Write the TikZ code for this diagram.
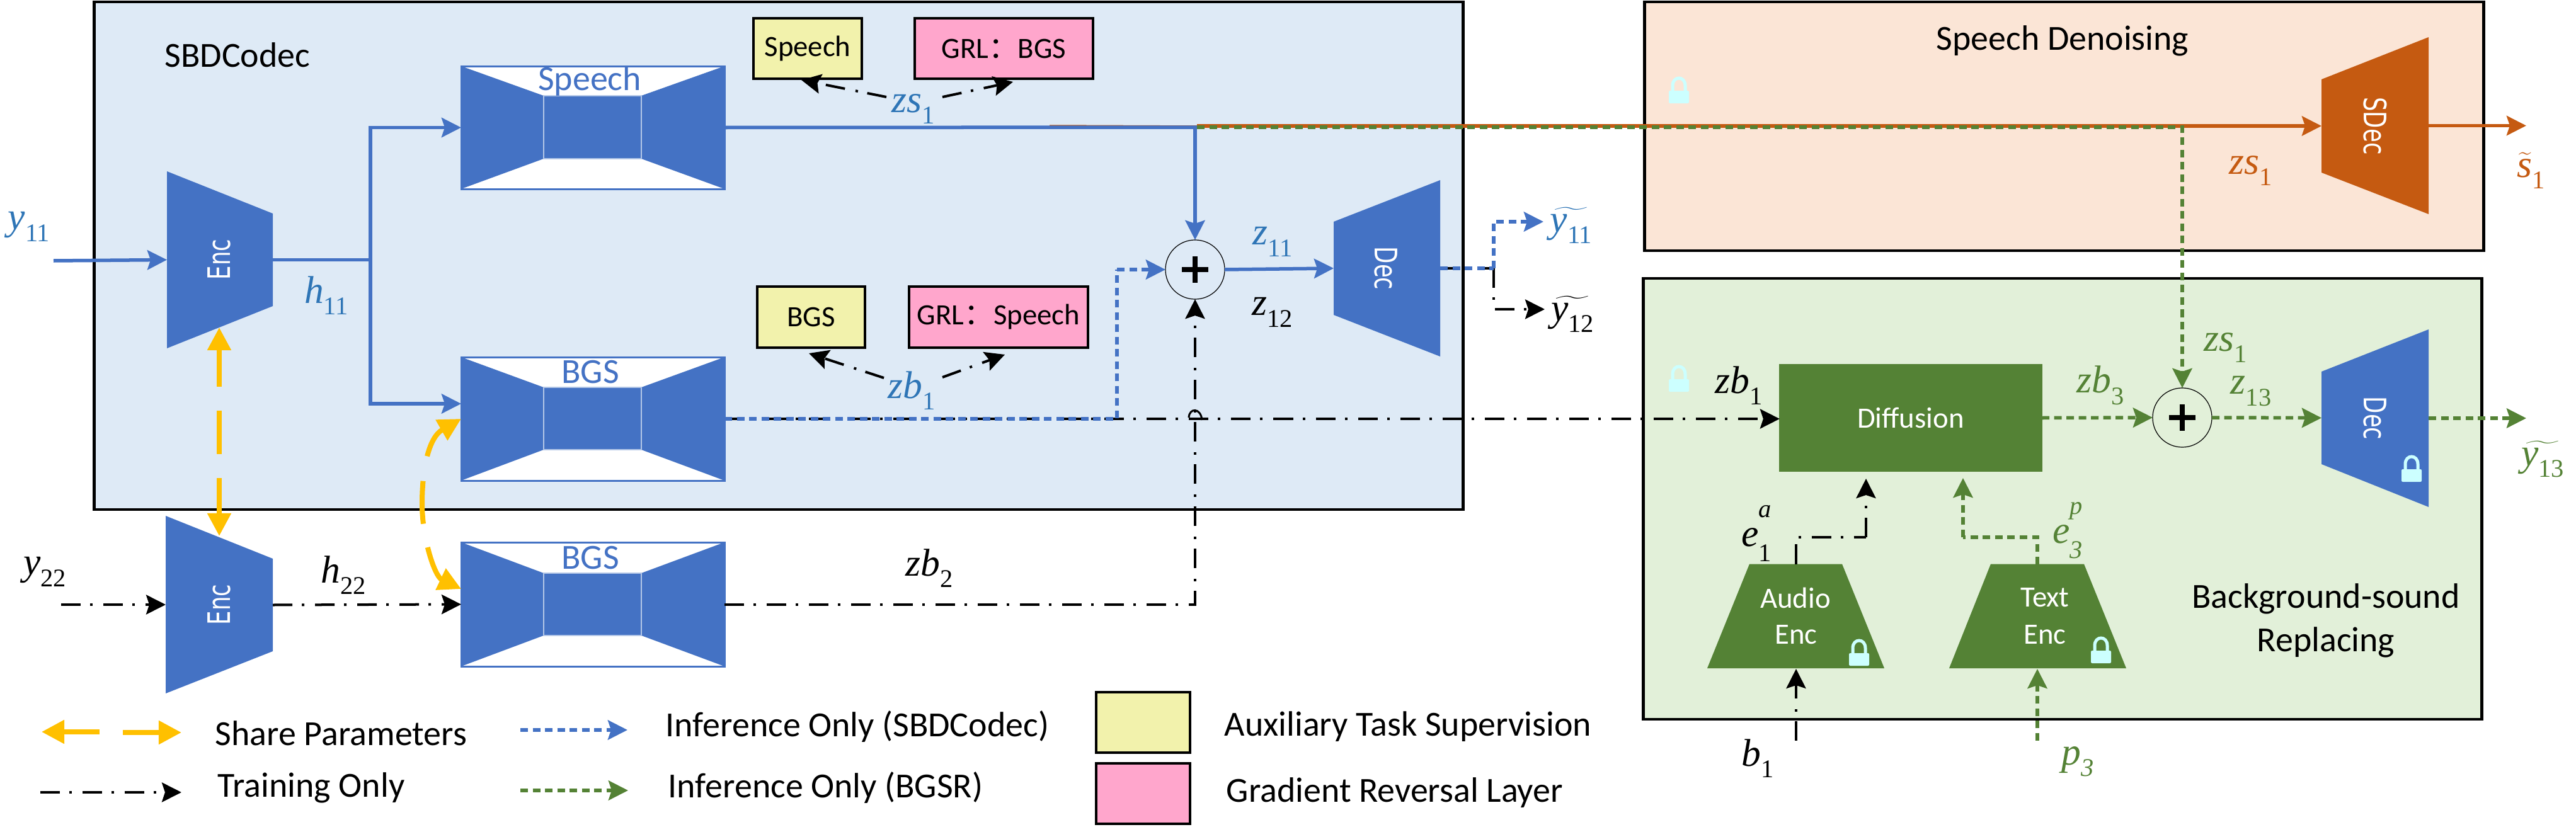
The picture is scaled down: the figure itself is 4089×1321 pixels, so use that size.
\RequirePackage{fix-cm}
\documentclass[tikz,border=0pt]{standalone}
\usepackage[no-math]{fontspec}
\setmainfont{Carlito}
\newfontfamily\cjk{Noto Sans CJK SC}
\newfontfamily\djv{DejaVu Sans}
\newfontfamily\mvf{Liberation Serif}
\usetikzlibrary{arrows.meta,calc}
\definecolor{cblue}{HTML}{4472C4}
\definecolor{lblue}{HTML}{2E75B6}
\definecolor{corange}{HTML}{C55A11}
\definecolor{cgreen}{HTML}{548235}
\definecolor{cgold}{HTML}{FFC000}
\definecolor{bgblue}{HTML}{DEEAF6}
\definecolor{bgorange}{HTML}{FBE5D6}
\definecolor{bggreen}{HTML}{E2F0D9}
\definecolor{cyellow}{HTML}{F2F2AC}
\definecolor{cpink}{HTML}{FFA6CC}
\definecolor{clock}{HTML}{CCFFFF}
\newcommand\subsize{\fontsize{11.5}{12}\selectfont}
\newcommand\mv[2]{\mbox{\mvf{\itshape #1}\raisebox{-0.3em}{\subsize #2}}}
\newcommand\mvi[2]{\mbox{\mvf{\itshape #1}\raisebox{-0.3em}{\subsize\itshape #2}}}
\newcommand\mvs[3]{\mbox{\mvf{\itshape #1}\rlap{\raisebox{0.75em}{\subsize\itshape #3}}\raisebox{-0.38em}{\subsize #2}}}
\tikzset{
  big/.style={font=\fontsize{15.9}{18}\selectfont,inner sep=0pt},
  small/.style={font=\fontsize{13.3}{16}\selectfont,inner sep=0pt},
  mlab/.style={font=\fontsize{17.5}{20}\selectfont,inner sep=0pt},
  panel/.style={draw=black,line width=0.045cm,inner sep=0pt,outer sep=0pt},
  tag/.style={draw=black,line width=0.045cm,inner sep=0pt,outer sep=0pt,font=\fontsize{13.3}{16}\selectfont},
  vert/.style={text=white,inner sep=0pt,font=\djv\fontsize{14}{16}\selectfont},
  tipb/.style={-{Stealth[length=0.31cm,width=0.31cm,inset=0.05cm]}},
  solidblue/.style={draw=cblue,line width=0.055cm,tipb},
  solidorange/.style={draw=corange,line width=0.055cm,tipb},
  dotblue/.style={draw=cblue,line width=0.055cm,dash pattern=on 0.12cm off 0.075cm},
  dotgreen/.style={draw=cgreen,line width=0.055cm,dash pattern=on 0.12cm off 0.075cm},
  train/.style={draw=black,line width=0.04cm,dash pattern=on 0.31cm off 0.15cm on 0.04cm off 0.17cm},
  goldarrow/.style={draw=cgold,line width=0.08cm,{Stealth[length=0.36cm,width=0.36cm,inset=0cm]}-{Stealth[length=0.36cm,width=0.36cm,inset=0cm]}},
  plusnode/.style={circle,draw=black,line width=0.012cm,minimum size=0.94cm,inner sep=0pt,outer sep=0pt},
}
\newcommand\trapz[8]{% name x1 x2 ly1 ly2 ry1 ry2 colour
  \fill[#8] (#2,#4) -- (#3,#6) -- (#3,#7) -- (#2,#5) -- cycle;
  \coordinate (#1-w) at (#2,{(#4+#5)/2});
  \coordinate (#1-e) at (#3,{(#6+#7)/2});
}
\newcommand\hourglass[5]{% name y1 y2 iy1 iy2
  \fill[white] (732,#2) rectangle (1150,#3);
  \fill[cblue] (732,#2) -- (863,#4) -- (863,#5) -- (732,#3) -- cycle;
  \fill[cblue] (1150,#2) -- (1018,#4) -- (1018,#5) -- (1150,#3) -- cycle;
  \fill[cblue] (863,#4) rectangle (1018,#5);
  \draw[white!60!cblue,line width=0.012cm] (863,#4) rectangle (1018,#5);
  \draw[cblue,line width=0.03cm] (732,#2) rectangle (1150,#3);
  \coordinate (#1-w) at (732,{(#2+#3)/2});
  \coordinate (#1-e) at (1150,{(#2+#3)/2});
}
\newcommand\lockicon[2]{%
  \draw[clock,line width=0.05cm] (#1-10,#2+2) -- (#1-10,#2-8) .. controls (#1-10,#2-24) and (#1+10,#2-24) .. (#1+10,#2-8) -- (#1+10,#2+2);
  \fill[clock,rounded corners=0.02cm] (#1-16,#2) rectangle (#1+16,#2+20);
}
\begin{document}
\begin{tikzpicture}[x=0.01cm,y=-0.01cm]
\useasboundingbox (0,0) rectangle (4089,1321);
% panels
\node[panel,fill=bgblue,minimum width=21.72cm,minimum height=8.06cm] (codec) at (1236,406) {};
\node[panel,fill=bgorange,minimum width=13.31cm,minimum height=3.95cm] (denoise) at (3276.5,200.5) {};
\node[panel,fill=bggreen,minimum width=13.30cm,minimum height=7.00cm] (replace) at (3274,792) {};
\node[big] (tcodec) at (377,87) {SBDCodec};
\node[big] (tdenoise) at (3274,65) {Speech Denoising};
\node[big] (treplaceA) at (3692,951) {Background-sound};
\node[big] (treplaceB) at (3692,1020) {Replacing};
% shapes
\trapz{e1}{265}{433}{272}{553}{339}{486}{cblue}
\trapz{e2}{263}{433}{819}{1101}{887}{1034}{cblue}
\trapz{d1}{2117}{2286}{352}{500}{286}{566}{cblue}
\trapz{d2}{3685}{3855}{590}{737}{523}{805}{cblue}
\trapz{sd}{3685}{3855}{126}{274}{59}{340}{corange}
\hourglass{sp}{105}{300}{152}{252}
\hourglass{bg}{567}{763}{615}{714}
\hourglass{bh}{861}{1058}{910}{1009}
\node[big,text=cblue] (tsp) at (936,129) {Speech};
\node[big,text=cblue] (tbg) at (937,591) {BGS};
\node[big,text=cblue] (tbh) at (937,886) {BGS};
\node[vert,rotate=90] (te1) at (348,412) {\scalebox{.72}[1]{Enc}};
\node[vert,rotate=90] (te2) at (348,960) {\scalebox{.72}[1]{Enc}};
\node[vert,rotate=-90] (td1) at (2200,426) {\scalebox{.72}[1]{Dec}};
\node[vert,rotate=-90] (td2) at (3770,664) {\scalebox{.72}[1]{Dec}};
\node[vert,rotate=-90] (tsd) at (3770,200) {\scalebox{.72}[1]{SDec}};
% tags
\node[tag,fill=cyellow,minimum width=1.72cm,minimum height=0.96cm] (tagA) at (1282,77) {Speech};
\node[tag,fill=cpink,minimum width=2.83cm,minimum height=0.96cm] (tagB) at (1593.5,77) {GRL{\cjk：}BGS};
\node[tag,fill=cyellow,minimum width=1.71cm,minimum height=0.97cm] (tagC) at (1287.5,503.5) {BGS};
\node[tag,fill=cpink,minimum width=2.84cm,minimum height=0.97cm] (tagD) at (1585,503.5) {GRL{\cjk：}Speech};
% plus nodes
\node[plusnode] (p1) at (1897,428) {};
\node[plusnode] (p2) at (3464,663) {};
\foreach \c in {p1,p2}{
  \draw[black,line width=0.08cm] ($(\c)+(-21,0)$) -- ($(\c)+(21,0)$);
  \draw[black,line width=0.08cm] ($(\c)+(0,-21)$) -- ($(\c)+(0,21)$);
}
% diffusion, encoders
\node[fill=cgreen,draw=cgreen,text=white,small,inner sep=0pt,minimum width=4.16cm,minimum height=1.69cm,outer sep=0pt] (diff) at (3033,663.5) {Diffusion};
\fill[cgreen] (2710,1061) -- (2777,895.5) -- (2924,895.5) -- (2991,1061) -- cycle;
\coordinate (au-n) at (2851,895.5); \coordinate (au-s) at (2851,1062);
\fill[cgreen] (3094,1061) -- (3160,895.5) -- (3308,895.5) -- (3375,1061) -- cycle;
\coordinate (tx-n) at (3234,895.5); \coordinate (tx-s) at (3234,1062);
\node[small,text=white] (tau1) at (2850,949) {Audio};
\node[small,text=white] (tau2) at (2851,1008) {Enc};
\node[small,text=white] (ttx1) at (3246,949) {Text};
\node[small,text=white] (ttx2) at (3246,1008) {Enc};
% locks
\lockicon{2665}{144}
\lockicon{2665}{602}
\lockicon{3828}{745}
\lockicon{2951}{1037}
\lockicon{3335}{1033}
% free coordinates
\coordinate (y1in) at (85,414);
\coordinate (branch) at (588,412.5);
\coordinate (bgin) at (732,641);
\coordinate (tapb) at (1773,665);
\coordinate (orgstart) at (1666,201);
\coordinate (tap) at (1900,202);
\coordinate (dj) at (2371,426);
\coordinate (y11tip) at (2450,352);
\coordinate (y12tip) at (2452,491);
\coordinate (s1tip) at (4010,199.5);
\coordinate (y13tip) at (4010,664);
\coordinate (y22in) at (97,960);
\coordinate (bin) at (2851,1176);
\coordinate (pin) at (3234,1176);
\coordinate (aubend) at (2962,853);
\coordinate (aubendL) at (2851,853);
\coordinate (aud) at (2962,760);
\coordinate (txbend) at (3116,853);
\coordinate (txbendR) at (3234,853);
\coordinate (txd) at (3116,759);
\coordinate (jump) at (1897,665);
% solid blue
\draw[solidblue] (y1in) -- (e1-w);
\draw[solidblue,-] (e1-e) -- (branch);
\draw[solidblue] (branch) |- (sp-w);
\draw[solidblue] (branch) |- (bgin);
\draw[solidorange,-] (orgstart) -- (tap);
\draw[solidorange] (tap |- sd-w) -- (sd-w);
\draw[solidblue,-] (sp-e) -- (tap);
\draw[solidblue] (sp-e -| p1.north) -- (p1.north);
\draw[solidblue] (p1.east) -- (d1-w);
\draw[solidorange] (sd-e) -- (s1tip);
% green dotted
\draw[dotgreen,tipb] (tap) -| (p2.north);
\draw[dotgreen,tipb] (diff.east) -- (p2.west);
\draw[dotgreen,tipb] (p2.east) -- (d2-w);
\draw[dotgreen,tipb] (d2-e) -- (y13tip);
\draw[dotgreen,tipb] (pin) -- (tx-s);
\draw[dotgreen] (tx-n) -- (txbendR) -- (txbend);
\draw[dotgreen,tipb] (txbend) -- (txd);
% training
\draw[train,tipb] (bg-e) -- (bg-e -| diff.west);
\draw[train,tipb] (y22in) -- (e2-w);
\draw[train,tipb] (e2-e) -- (bh-w);
\draw[train,tipb] (bh-e) -| (p1.south);
\draw[black,line width=0.03cm] ($(jump)+(-10,-2)$) .. controls ($(jump)+(-9,-18)$) and ($(jump)+(9,-18)$) .. ($(jump)+(11,2)$);
\draw[train] (d1-e) -- (dj);
\draw[train,tipb] (dj) |- (y12tip);
\draw[train,tipb] (bin) -- (au-s);
\draw[train] (au-n) -- (aubendL) -- (aubend);
\draw[train,tipb] (aubend) -- (aud);
\coordinate (zsm) at (1450,154);
\coordinate (zbm) at (1450,600);
\coordinate (zsL) at (1272,127);
\coordinate (zsR) at (1608,130);
\coordinate (zbL) at (1284,561);
\coordinate (zbR) at (1595,563);
\draw[train,tipb] ($(zsm)+(-43,0)$) -- (zsL);
\draw[train,tipb] ($(zsm)+(46,0)$) -- (zsR);
\draw[train,tipb] ($(zbm)+(-47,0)$) -- (zbL);
\draw[train,tipb] ($(zbm)+(46,-1)$) -- (zbR);
% blue dotted
\draw[dotblue] (bg-e) -- (tapb) -- (tapb |- p1.west);
\draw[dotblue,tipb] (tapb |- p1.west) -- (p1.west);
\draw[dotblue] (d1-e) -- (dj);
\draw[dotblue,tipb] (dj) |- (y11tip);
% gold
\draw[goldarrow,dash pattern=on 0.6cm off 0.38cm on 0.69cm off 0.38cm on 1.2cm] (348,520) -- (348,851);
\coordinate (gA) at (732,665);
\coordinate (gM) at (670,800);
\coordinate (gB) at (732,935);
\draw[goldarrow,dash pattern=on 0.5cm off 0.4cm on 0.68cm off 0.38cm on 5cm] (gA) .. controls (680,695) and (670,745) .. (gM) .. controls (670,855) and (690,915) .. (gB);
% math labels
\node[mlab,text=lblue] (ly11) at (46,360) {\mv{y}{11}};
\node[mlab,text=lblue] (lh11) at (518,469) {\mv{h}{11}};
\node[mlab,text=lblue] (lzs1) at (1450,173) {\mv{zs}{1}};
\node[mlab,text=lblue] (lzb1) at (1447,620) {\mv{zb}{1}};
\node[mlab,text=lblue] (lz11) at (2020,384) {\mv{z}{11}};
\node[mlab] (lz12) at (2020,496) {\mv{z}{12}};
\node[mlab,text=lblue] (lyt11) at (2494,358) {$\widetilde{\mv{y}{11}}$};
\node[mlab] (lyt12) at (2496,499) {$\widetilde{\mv{y}{12}}$};
\node[mlab] (ly22) at (71,908) {\mv{y}{22}};
\node[mlab] (lh22) at (545,913) {\mv{h}{22}};
\node[mlab] (lzb2) at (1475,902) {\mv{zb}{2}};
\node[mlab] (lzb1b) at (2760,612) {\mv{zb}{1}};
\node[mlab,text=cgreen] (lzb3) at (3334,612) {\mv{zb}{3}};
\node[mlab,text=cgreen] (lzs1g) at (3533,552) {\mv{zs}{1}};
\node[mlab,text=cgreen] (lz13) at (3573,621) {\mv{z}{13}};
\node[mlab,text=corange] (lzs1o) at (3573,271) {\mv{zs}{1}};
\node[mlab,text=corange] (ls1) at (4018,271) {$\widetilde{\mbox{\mvf\itshape s}}$\raisebox{-0.3em}{\mvf\subsize 1}};
\node[mlab,text=cgreen] (lyt13) at (4036,729) {$\widetilde{\mv{y}{13}}$};
\node[mlab] (le1) at (2788,847) {\mvs{e}{1}{a}};
\node[mlab,text=cgreen] (le3) at (3282,842) {\mbox{\mvf{\itshape e}\rlap{\raisebox{0.75em}{\subsize\itshape p}}\raisebox{-0.38em}{\subsize\itshape 3}}};
\node[mlab] (lb1) at (2790,1204) {\mv{b}{1}};
\node[mlab,text=cgreen] (lp3) at (3298,1209) {\mvi{p}{3}};
% legend
\coordinate (lgA) at (66,1162); \coordinate (lgAe) at (158,1162);
\coordinate (lgB) at (195,1163); \coordinate (lgBe) at (288,1163);
\draw[goldarrow,{Stealth[length=0.36cm,width=0.36cm,inset=0cm]}-] (lgA) -- (lgAe);
\draw[goldarrow,-{Stealth[length=0.36cm,width=0.36cm,inset=0cm]}] (lgB) -- (lgBe);
\coordinate (lgT) at (64,1258); \coordinate (lgTe) at (288,1258);
\draw[train,tipb] (lgT) -- (lgTe);
\coordinate (lgI) at (826,1159); \coordinate (lgIe) at (996,1159);
\draw[dotblue,tipb] (lgI) -- (lgIe);
\coordinate (lgG) at (826,1255); \coordinate (lgGe) at (997,1255);
\draw[dotgreen,tipb] (lgG) -- (lgGe);
\node[big,anchor=west] (l1) at (341,1164) {Share Parameters};
\node[big,anchor=west] (l2) at (345,1251) {Training Only};
\node[big,anchor=west] (l3) at (1056,1154) {Inference Only (SBDCodec)};
\node[big,anchor=west] (l4) at (1060,1251) {Inference Only (BGSR)};
\node[tag,fill=cyellow,minimum width=1.49cm,minimum height=0.96cm] (lgY) at (1814.5,1147) {};
\node[tag,fill=cpink,minimum width=1.49cm,minimum height=0.96cm] (lgP) at (1814.5,1260) {};
\node[big,anchor=west] (l5) at (1943,1154) {Auxiliary Task Supervision};
\node[big,anchor=west] (l6) at (1946,1259) {Gradient Reversal Layer};
\end{tikzpicture}
\end{document}
